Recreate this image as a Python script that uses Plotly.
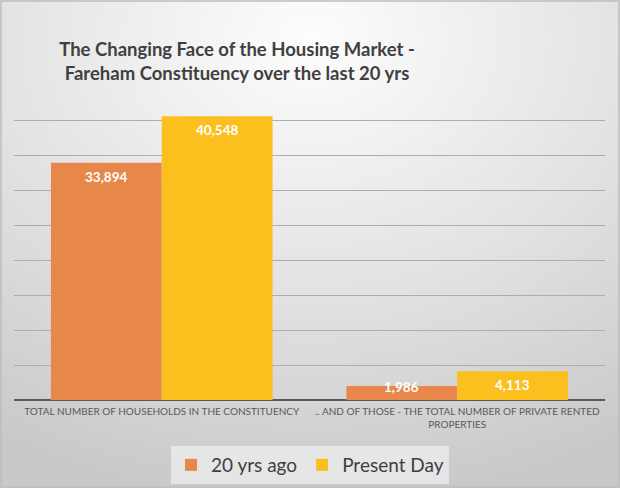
import base64
import plotly.graph_objects as go

categories = ["TOTAL NUMBER OF HOUSEHOLDS IN THE CONSTITUENCY",
              ".. AND OF THOSE - THE TOTAL NUMBER OF PRIVATE RENTED PROPERTIES"]
tick_labels = ["TOTAL NUMBER OF HOUSEHOLDS IN THE CONSTITUENCY",
               ".. AND OF THOSE - THE TOTAL NUMBER OF PRIVATE RENTED<br>PROPERTIES"]
series_names = ["20 yrs ago", "Present Day"]
values_20yrs = [33894, 1986]
values_present = [40548, 4113]
colors = ["#E8874A", "#FBC01E"]

W, H = 620, 488
ml, mr, mt, mb = 14, 15, 85, 88
pw, ph = W - ml - mr, H - mt - mb
y_max = 45000
bargap = 0.25
px_per_unit = ph / y_max

svg = f'''<svg xmlns="http://www.w3.org/2000/svg" width="{W}" height="{H}">
<defs><radialGradient id="g" cx="50%" cy="8%" r="95%" fx="50%" fy="8%">
<stop offset="0%" stop-color="#FDFDFD"/><stop offset="55%" stop-color="#E2E2E2"/><stop offset="100%" stop-color="#C9C9C9"/>
</radialGradient></defs><rect width="{W}" height="{H}" fill="url(#g)"/></svg>'''
bg = "data:image/svg+xml;base64," + base64.b64encode(svg.encode()).decode()

fig = go.Figure()
all_vals = [values_20yrs, values_present]
bar_w = (1 - bargap) / len(all_vals)
annotations = []
for k, (name, vals, col) in enumerate(zip(series_names, all_vals, colors)):
    fig.add_trace(go.Bar(
        x=categories, y=vals, name=name, marker=dict(color=col, line=dict(width=0)),
    ))
    offset = (k - (len(all_vals) - 1) / 2) * bar_w
    for i, v in enumerate(vals):
        label_y = max(v - 14 / px_per_unit, 13 / px_per_unit)
        annotations.append(dict(
            x=i + offset, y=label_y, xref="x", yref="y", text=f"{v:,}",
            showarrow=False, xanchor="center", yanchor="middle",
            font=dict(family="Lato", size=13.5, color="white", weight="bold")))

fig.update_layout(
    width=W, height=H, barmode="group", bargap=bargap, bargroupgap=0,
    margin=dict(l=ml, r=mr, t=mt, b=mb, autoexpand=False),
    paper_bgcolor="#DDDDDD", plot_bgcolor="rgba(0,0,0,0)",
    font=dict(family="Lato", color="#404040"),
    title=dict(text="The Changing Face of the Housing Market -<br>Fareham Constituency over the last 20 yrs",
               x=237 / W, xanchor="center", xref="container",
               y=1 - 56 / H, yanchor="middle", yref="container",
               font=dict(family="Lato", size=18.5, color="#404040", weight="bold")),
    xaxis=dict(tickvals=categories, ticktext=tick_labels, showgrid=False,
               tickfont=dict(family="Lato", size=10, color="#595959"),
               tickangle=0, automargin=False, ticklabelstandoff=4,
               showline=False, ticks=""),
    yaxis=dict(range=[0, y_max], dtick=5000, showticklabels=False, automargin=False,
               showgrid=True, gridcolor="#ADADAD", gridwidth=1,
               zeroline=True, zerolinecolor="#595959", zerolinewidth=1.5),
    legend=dict(orientation="h", x=0.5, xanchor="center", xref="container",
                y=1 - 446 / H, yanchor="top", yref="container",
                bgcolor="rgba(238,238,238,0.75)",
                font=dict(family="Lato", size=19, color="#404040"),
                itemwidth=30),
    annotations=annotations,
    images=[dict(source=bg, xref="paper", yref="paper",
                 x=-ml / pw, y=1 + mt / ph, sizex=W / pw, sizey=H / ph,
                 xanchor="left", yanchor="top", sizing="stretch", layer="below")],
    shapes=[dict(type="rect", xref="paper", yref="paper",
                 x0=-(ml - 1) / pw, x1=1 + (mr - 1) / pw,
                 y0=-(mb - 1) / ph, y1=1 + (mt - 1) / ph,
                 line=dict(color="#BDBDBD", width=1.5), layer="above")],
)

fig.write_html("out.html", config={"displayModeBar": False},
               post_script="document.body.style.margin='0';")
